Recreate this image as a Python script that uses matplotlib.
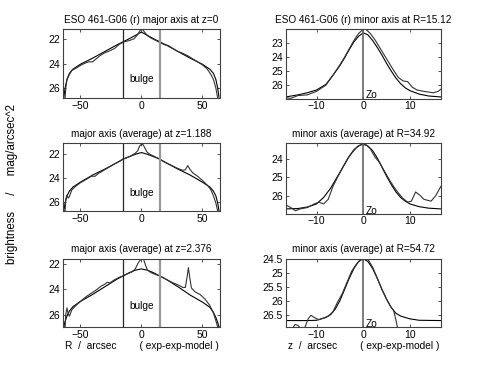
import matplotlib
matplotlib.use('Agg')
import matplotlib.pyplot as plt
from matplotlib.ticker import FormatStrFormatter

plt.rcParams['font.family'] = ['Liberation Sans', 'DejaVu Sans']
plt.rcParams['font.size'] = 7

# ---- top left: major axis at z=0
tl_data_x = [-64, -62.5, -62, -61, -59, -57, -54, -50, -46, -43, -40, -37, -34, -30, -26, -22, -18,
             -14, -10, -6, -3, -1, 0, 1, 3, 5, 8, 12, 16, 19, 22, 25, 30, 34, 38, 42, 46, 50,
             54, 57, 59, 61, 62.5, 64]
tl_data_y = [26.83, 26.83, 26.0, 25.3, 24.9, 24.55, 24.4, 24.15, 23.95, 23.85, 23.85, 23.6, 23.35,
             23.1, 22.95, 22.75, 22.4, 22.2, 22.1, 21.95, 21.6, 21.25, 21.15, 21.2, 21.45, 21.7,
             21.9, 22.1, 22.3, 22.45, 22.5, 22.7, 23.0, 23.15, 23.35, 23.6, 23.85, 24.1, 24.45,
             24.9, 25.3, 26.0, 26.83, 26.83]
tl_model_x = [-63.5, -62.5, -61, -59, -56, -50, -40, -30, -20, -10, 0,
              10, 20, 30, 40, 50, 56, 59, 61, 62.5, 63.5]
tl_model_y = [26.7, 26.0, 25.3, 24.8, 24.45, 24.05, 23.55, 23.0, 22.45, 21.95, 21.4,
              21.95, 22.45, 23.0, 23.55, 24.05, 24.45, 24.8, 25.3, 26.0, 26.7]

# ---- top right: minor axis at R=15.12
tr_data_x = [-16.6, -15.5, -14, -12, -10, -8, -6.5, -5, -4, -3, -2, -1, 0, 0.5, 1.5, 2.5, 3.5,
             4.5, 5.5, 6.5, 7.5, 8.5, 9.5, 10.5, 11.5, 13, 15, 16, 16.6]
tr_data_y = [26.9, 26.95, 26.75, 26.7, 26.45, 26.0, 25.3, 24.55, 24.0, 23.4, 22.8, 22.3, 22.0,
             21.98, 22.3, 22.75, 23.3, 23.85, 24.4, 24.95, 25.45, 25.7, 25.75, 26.15, 26.35,
             26.45, 26.55, 26.45, 26.3]
tr_model_x = [-16.6, -14, -12, -10, -8, -6.5, -5, -4, -3, -2, -1, 0, 1, 2, 3, 4, 5, 6, 7,
              8, 9, 10, 12, 14, 16.6]
tr_model_y = [26.85, 26.7, 26.55, 26.35, 25.95, 25.3, 24.6, 24.05, 23.45, 22.9, 22.5, 22.25,
              22.4, 22.8, 23.3, 23.85, 24.45, 25.0, 25.5, 25.9, 26.2, 26.4, 26.65, 26.78, 26.85]

# ---- middle left: major axis (average) at z=1.188
ml_data_x = [-64, -62.5, -62, -61, -60, -59, -57, -54, -50, -45, -41, -38, -35, -30, -26, -22,
             -18, -15, -12, -8, -5, -3, -1.5, 0, 1.5, 3, 4.5, 7, 10, 14, 18, 22, 26, 30, 34,
             36, 38, 40, 42, 46, 50, 54, 57, 59, 61, 62.5, 64]
ml_data_y = [26.78, 26.78, 25.8, 25.45, 25.7, 25.55, 25.0, 24.7, 24.4, 24.1, 23.85, 23.85, 23.6,
             23.3, 23.05, 22.8, 22.6, 22.4, 22.3, 22.1, 21.9, 21.7, 21.3, 21.15, 21.2, 21.5,
             21.8, 22.0, 22.15, 22.35, 22.6, 22.8, 23.0, 23.2, 23.35, 23.3, 22.95, 23.3, 23.55,
             23.85, 24.2, 24.6, 25.0, 25.5, 26.1, 26.78, 26.78]
ml_model_x = [-63.5, -62.5, -61, -59, -56, -50, -40, -30, -20, -15, -10, -5, 0,
              5, 10, 15, 20, 30, 40, 50, 56, 59, 61, 62.5, 63.5]
ml_model_y = [26.7, 26.1, 25.5, 25.1, 24.75, 24.35, 23.75, 23.25, 22.7, 22.4, 22.2, 22.0, 21.85,
              22.0, 22.2, 22.4, 22.7, 23.25, 23.75, 24.35, 24.75, 25.1, 25.5, 26.1, 26.7]

# ---- middle right: minor axis (average) at R=34.92
mr_data_x = [-16.6, -15.5, -14.5, -13.5, -12, -10.5, -9.5, -8.5, -7.5, -6.5, -5.5, -4.5, -3.5,
             -2.5, -1.5, -0.5, 0.5, 1.5, 2.5, 3.5, 4.5, 5.5, 6.5, 7.5, 8.5, 9.5, 10.3, 11.2,
             12, 13, 14.5, 15.5, 16.6]
mr_data_y = [26.5, 26.65, 26.82, 26.72, 26.65, 26.45, 26.35, 26.45, 26.2, 25.5, 25.0, 24.5,
             24.05, 23.7, 23.4, 23.22, 23.2, 23.45, 23.9, 24.2, 24.65, 25.1, 25.5, 25.85, 26.15,
             26.35, 26.3, 25.8, 25.95, 26.2, 26.3, 26.0, 25.5]
mr_model_x = [-16.6, -14, -12, -10, -8.5, -7, -5.5, -4, -3, -2, -1, 0, 1, 2, 3, 4, 5, 6, 7,
              8, 9, 10, 12, 14, 16.6]
mr_model_y = [26.72, 26.7, 26.62, 26.45, 26.1, 25.6, 24.95, 24.3, 23.85, 23.5, 23.28, 23.2,
              23.3, 23.55, 23.95, 24.45, 24.95, 25.4, 25.8, 26.1, 26.3, 26.45, 26.6, 26.68, 26.72]

# ---- bottom left: major axis (average) at z=2.376
bl_data_x = [-64, -62.5, -62, -61, -60, -59, -57, -54, -50, -45, -41, -37, -33, -30, -28, -26,
             -22, -18, -15, -12, -8, -5, -3, -1, 0.5, 2, 3.5, 5, 8, 12, 15, 20, 25, 30, 34,
             36, 37.5, 38.5, 39.5, 41, 44, 48, 52, 56, 59, 61, 62.5, 64]
bl_data_y = [26.95, 26.95, 26.0, 25.45, 25.9, 26.1, 25.6, 25.3, 24.95, 24.55, 24.3, 24.05,
             23.75, 23.6, 23.45, 23.5, 23.25, 23.05, 22.95, 22.8, 22.65, 22.4, 22.0, 21.7,
             21.55, 21.7, 22.15, 22.5, 22.7, 22.85, 22.95, 23.2, 23.45, 23.65, 23.85, 23.85,
             23.0, 22.3, 23.0, 23.9, 24.2, 24.4, 24.75, 25.25, 25.85, 26.45, 26.95, 26.95]
bl_model_x = [-63.5, -62.5, -61, -59, -56, -50, -40, -30, -20, -15, -10, -5, 0,
              5, 10, 15, 20, 30, 40, 50, 56, 59, 61, 62.5, 63.5]
bl_model_y = [26.9, 26.5, 26.1, 25.7, 25.35, 24.95, 24.4, 23.8, 23.2, 22.95, 22.7, 22.5, 22.4,
              22.5, 22.7, 22.95, 23.2, 23.8, 24.45, 25.0, 25.4, 25.8, 26.2, 26.6, 26.9]

# ---- bottom right: minor axis (average) at R=54.72
br_data_x = [-15.2, -14.6, -14.0, -13.3, -12.6, -11.8, -11.2, -10.5, -9.5, -8.5, -7.5, -6.5,
             -5.5, -4.5, -3.5, -2.5, -1.5, -0.5, 0.3, 1.0, 2.0, 3.0, 4.0, 5.0, 5.8, 6.5, 7.0, 7.5]
br_data_y = [27.0, 26.85, 26.88, 27.0, 27.0, 26.65, 26.52, 26.6, 26.68, 26.62, 26.55, 26.4,
             26.05, 25.75, 25.35, 24.95, 24.7, 24.52, 24.48, 24.52, 24.8, 25.2, 25.6, 25.95,
             26.2, 26.35, 26.7, 27.1]
br_model_x = [-16.6, -12, -10, -8, -7, -6, -5, -4, -3, -2, -1, 0, 1, 2, 3, 4, 5, 6, 7, 8,
              10, 12, 16.6]
br_model_y = [26.71, 26.71, 26.7, 26.6, 26.5, 26.3, 26.0, 25.6, 25.2, 24.85, 24.6, 24.5, 24.6,
              24.85, 25.2, 25.6, 25.95, 26.25, 26.45, 26.55, 26.65, 26.7, 26.71]

titles = ['ESO 461-G06 (r) major axis at z=0', 'ESO 461-G06 (r) minor axis at R=15.12',
          'major axis (average) at z=1.188', 'minor axis (average) at R=34.92',
          'major axis (average) at z=2.376', 'minor axis (average) at R=54.72']
ylims = [(26.83, 21.17), (26.96, 22.0), (26.78, 21.07), (26.97, 23.15), (26.95, 21.6), (26.94, 24.5)]
yticks = [[22, 24, 26], [23, 24, 25, 26], [22, 24, 26], [24, 25, 26], [22, 24, 26],
          [24.5, 25, 25.5, 26, 26.5]]

W, H = 491, 367
fig = plt.figure(figsize=(W / 100, H / 100), dpi=100)

# axes boxes in pixels: left, top, right, bottom
boxes = [(63.3, 29.3, 219.5, 98.0), (285.7, 29.3, 441.3, 98.5),
         (63.3, 143.3, 219.5, 211.0), (285.7, 143.3, 441.3, 213.5),
         (63.3, 258.7, 219.5, 327.0), (285.7, 258.7, 441.3, 327.0)]

panels = [(tl_data_x, tl_data_y, tl_model_x, tl_model_y),
          (tr_data_x, tr_data_y, tr_model_x, tr_model_y),
          (ml_data_x, ml_data_y, ml_model_x, ml_model_y),
          (mr_data_x, mr_data_y, mr_model_x, mr_model_y),
          (bl_data_x, bl_data_y, bl_model_x, bl_model_y),
          (br_data_x, br_data_y, br_model_x, br_model_y)]

for i, (dx, dy, mx, my) in enumerate(panels):
    l, t, r, b = boxes[i]
    ax = fig.add_axes([l / W, 1 - b / H, (r - l) / W, (b - t) / H])
    major = (i % 2 == 0)
    ax.plot(mx, my, color='black', lw=0.8)
    ax.plot(dx, dy, color='0.2', lw=0.8)
    if major:
        ax.set_xlim(-64, 64)
        ax.set_xticks([-50, 0, 50])
        ax.axvline(-15, color='0.15', lw=0.9)
        ax.axvline(15, color='0.6', lw=1.6)
        ax.text(0, 25.3, 'bulge', ha='center', va='center', fontsize=7.3)
    else:
        ax.set_xlim(-16.6, 16.7)
        ax.set_xticks([-10, 0, 10])
        ax.axvline(0, color='0.4', lw=1.2)
        ax.text(0.5, ylims[i][0], 'Zo', ha='left', va='baseline', fontsize=7.3)
    ax.set_ylim(*ylims[i])
    ax.set_yticks(yticks[i])
    ax.yaxis.set_major_formatter(FormatStrFormatter('%g'))
    ax.tick_params(direction='in', length=2.5, width=0.6, top=True, right=True,
                   labelsize=7.5, pad=2, colors='0.2', labelcolor='black')
    for s in ax.spines.values():
        s.set_color('0.25')
        s.set_linewidth(0.8)
    ax.set_title(titles[i], fontsize=7.2, pad=4.5)
    if i == 4:
        ax.set_xlabel('R  /  arcsec        ( exp-exp-model )', fontsize=7.3, labelpad=1)
    if i == 5:
        ax.set_xlabel('z  /  arcsec        ( exp-exp-model )', fontsize=7.3, labelpad=1)

fig.text(0.025, 0.5, 'brightness     /     mag/arcsec^2', rotation=90, ha='center',
         va='center', fontsize=8.3)

plt.savefig('out.png', dpi=100)
